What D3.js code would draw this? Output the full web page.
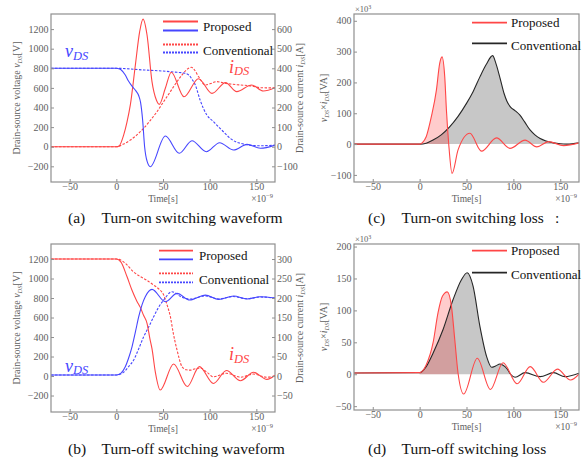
<!DOCTYPE html>
<html>
<head>
<meta charset="utf-8">
<script src="https://cdn.jsdelivr.net/npm/d3@7"></script>
<style>
  body { margin: 0; background: #fff; }
  svg text { font-family: "Liberation Serif", "Times New Roman", serif; }
</style>
</head>
<body>
<svg id="chart"></svg>
<script>
// ---- data: [time in ns, value]

// (a) turn-on waveform: current in A (right axis), voltage in V (left axis)
var onIdsProposed = [[-70,0],[0,0],[3,4],[7.9,60],[11.4,125],[15,213],[20.4,417],[25,587],[28.6,651],[32.9,570],
  [38.2,332],[42.9,238],[46,216],[52.5,298],[58.9,380],[72.5,255],[88,347],[102.5,272],[117,327],[129,281],
  [145,315],[157.5,284],[170,301]];
var onIdsConventional = [[-70,0],[0,0],[7,12],[15,34],[22,60],[29.3,94],[36,132],[43.6,179],[50,225],[57.9,281],
  [64,325],[70.4,366],[76,396],[80.4,405],[84,390],[88.2,357],[95.4,315],[101,322],[107.6,332],[115,325],
  [122,320],[133,315],[145,310],[154,301],[170,300]];
var onVdsProposed = [[-70,800],[0,800],[1.5,798],[5,785],[9.6,731],[13,670],[17,615],[21,570],[24,520],[26,450],
  [28.2,270],[30.3,0],[33,-150],[36.4,-204],[52.5,109],[67.5,-67],[81,61],[96.4,-51],[110.7,41],[125.7,-34],
  [140,24],[154.3,-16],[170,17]];
var onVdsConventional = [[-70,800],[0,800],[29.3,783],[50,772],[65,759],[72,752],[77.5,732],[81,690],[84.6,630],
  [90,470],[97,323],[103,265],[107.6,221],[115,150],[122,86],[128,50],[133,35],[140,20],[147,12],[155,10],
  [163,12],[170,15]];

// (b) turn-off waveform
var offIdsProposed = [[-70,300],[0,300],[5,292],[11.4,255],[16.8,220],[22,192],[25.7,176],[29.3,155],[32.9,135],
  [36,95],[38.2,70],[41.8,10],[47,-36],[61.4,31],[76,-27],[89,24],[104,-19],[118,14],[133,-12],[147,9.5],
  [161.4,-8.5],[170,2]];
var offIdsConventional = [[-70,300],[0,300],[5,297],[11.4,285],[18,268],[25.7,255],[33,245],[40,233],[46,222],
  [50.7,208],[54,185],[57.9,152],[61,110],[65,67],[70.4,24],[75,16],[79.3,15],[85,19],[90,20],[97,10],
  [104,-2],[118,7],[133,-3],[147,5],[161,-3],[170,0]];
var offVdsProposed = [[-70,10],[0,10],[5,30],[9.6,95],[13,180],[16.8,300],[20.5,455],[24,608],[27.5,730],
  [31,813],[38.2,889],[52.5,762],[65,848],[78.6,779],[95.4,830],[109.6,786],[125.7,820],[140,790],
  [154,813],[170,800]];
var offVdsConventional = [[-70,10],[0,10],[8,40],[13,95],[18.6,164],[24,280],[29.3,403],[35,510],[40,608],
  [45,700],[50.7,779],[59.6,865],[70.4,807],[80,790],[95,822],[110,790],[125,815],[140,792],[154,810],[170,800]];

// (c) turn-on loss, x1e3 VA
var onLossProposed = [[-70,0],[0,0],[3,5],[7,24],[12.5,89],[17.9,175],[21.4,262],[23.9,283],[26.8,218],
  [28.6,110],[31,2],[34.6,-95],[41,-19],[53.6,35],[66,-23],[82,20],[96.4,-14],[112.5,13],[125,-9],
  [137.5,8],[153.6,-5],[170,4]];
var onLossConventional = [[-70,0],[0,0],[7,3],[14.3,13],[23,30],[32,56],[41,90],[50,132],[57,170],[64.3,218],
  [71,258],[77.9,287],[81,265],[85.7,215],[90,165],[93,140],[97,120],[102,108],[107,94],[112,72],[118,45],
  [123,30],[128.6,18],[135,10],[142.9,4],[150,1],[157,0],[170,4]];

// (d) turn-off loss, x1e3 VA
var offLossProposed = [[-70,2],[0,2.5],[7.1,15],[14.3,49],[19.6,96],[24.3,122],[29.5,129],[34,106],[37.5,54],
  [41,1.5],[47,-31],[61.5,25],[75.5,-24],[89,18],[104,-15],[118,12],[132,-12.6],[147,8],[161,-9],[170,0]];
var offLossConventional = [[-70,2],[0,2.5],[7,12],[14.3,33],[25,70],[35.7,117],[44.6,148],[50.7,159],[57,138],
  [64.3,75],[71.4,28],[76.8,11],[81,13],[85.7,16],[89,14],[92.9,9],[97,0],[101.8,-4.7],[112.5,2.5],
  [128.6,-3.8],[142.9,2.5],[155,-3.8],[170,1.5]];

// tick labels
var timeTicks = [-50, 0, 50, 100, 150];
var voltTicks = [-200, 0, 200, 400, 600, 800, 1000, 1200];
var onCurrentTicks = [-100, 0, 100, 200, 300, 400, 500, 600];
var offCurrentTicks = [-50, 0, 50, 100, 150, 200, 250, 300];
var onLossTicks = [-100, 0, 100, 200, 300, 400];
var offLossTicks = [-50, 0, 50, 100, 150, 200];

// ---- drawing
var width = 588;
var height = 461;
var RED = "#ff4646";
var BLUE = "#4646ff";
var BLACK = "#262626";
var AXIS = "#8f8f8f";
var LABEL = "#606060";
var fmt = d3.format("d");

var svg = d3.select("#chart")
    .attr("width", width)
    .attr("height", height);

svg.append("rect").attr("width", width).attr("height", height).attr("fill", "#fff");

function makePanel(id, box, yDomain, yTicks, y2Domain, y2Ticks) {
  var x = d3.scaleLinear().domain([-70, 170]).range([box.l, box.r]);
  var y = d3.scaleLinear().domain(yDomain).range([box.b, box.t]);
  var y2 = y2Domain ? d3.scaleLinear().domain(y2Domain).range([box.b, box.t]) : null;

  var g = svg.append("g");

  svg.append("clipPath").attr("id", "clip-" + id)
    .append("rect")
      .attr("x", box.l).attr("y", box.t)
      .attr("width", box.r - box.l).attr("height", box.b - box.t);

  var plot = g.append("g").attr("clip-path", "url(#clip-" + id + ")");

  g.append("g")
      .attr("transform", "translate(0," + box.b + ")")
      .call(d3.axisBottom(x).tickValues(timeTicks).tickFormat(fmt).tickSize(-3).tickSizeOuter(0).tickPadding(1));
  g.append("g")
      .attr("transform", "translate(" + box.l + ",0)")
      .call(d3.axisLeft(y).tickValues(yTicks).tickFormat(fmt).tickSize(-3).tickSizeOuter(0).tickPadding(2.5));
  if (y2) {
    g.append("g")
        .attr("transform", "translate(" + box.r + ",0)")
        .call(d3.axisRight(y2).tickValues(y2Ticks).tickFormat(fmt).tickSize(-3).tickSizeOuter(0).tickPadding(2));
  }
  g.selectAll(".domain").remove();
  g.selectAll(".tick line").attr("stroke", AXIS);
  g.selectAll(".tick text")
      .attr("fill", LABEL)
      .style("font-size", "10px")
      .style("font-family", "'Liberation Serif', serif");

  g.append("rect")
      .attr("x", box.l).attr("y", box.t)
      .attr("width", box.r - box.l).attr("height", box.b - box.t)
      .attr("fill", "none")
      .attr("stroke", AXIS)
      .attr("stroke-width", 1.2);

  // Time[s] and x1e-9
  g.append("text")
      .attr("x", (box.l + box.r) / 2)
      .attr("y", box.b + 19.5)
      .attr("text-anchor", "middle")
      .attr("fill", LABEL)
      .style("font-size", "9.5px")
      .text("Time[s]");
  var e = g.append("text")
      .attr("x", box.r - 2)
      .attr("y", box.b + 19.5)
      .attr("text-anchor", "end")
      .attr("fill", LABEL)
      .style("font-size", "9.5px")
      .text("×10");
  e.append("tspan").attr("dy", -4).style("font-size", "6.5px").text("−9");

  return { g: g, plot: plot, x: x, y: y, y2: y2, box: box, id: id };
}

function drawLine(p, data, yScale, color, dashed) {
  p.plot.append("path")
      .datum(data)
      .attr("fill", "none")
      .attr("stroke", color)
      .attr("stroke-width", 1.1)
      .attr("stroke-dasharray", dashed ? "2.5,1.5" : null)
      .attr("d", d3.line()
          .x(function(d) { return p.x(d[0]); })
          .y(function(d) { return yScale(d[1]); })
          .curve(d3.curveMonotoneX));
}

var fillCount = 0;
function drawFill(p, data, color, tEnd) {
  fillCount++;
  var cid = "fill-" + fillCount;
  svg.append("clipPath").attr("id", cid)
    .append("rect")
      .attr("x", p.x(0)).attr("y", p.box.t)
      .attr("width", p.x(tEnd) - p.x(0)).attr("height", p.box.b - p.box.t);
  p.plot.append("path")
      .datum(data)
      .attr("clip-path", "url(#" + cid + ")")
      .attr("fill", color)
      .attr("stroke", "none")
      .attr("d", d3.area()
          .x(function(d) { return p.x(d[0]); })
          .y0(p.y(0))
          .y1(function(d) { return p.y(d[1]); })
          .curve(d3.curveMonotoneX));
}

function legendLine(x1, x2, y, color, dashed) {
  svg.append("line")
      .attr("x1", x1).attr("x2", x2).attr("y1", y).attr("y2", y)
      .attr("stroke", color)
      .attr("stroke-width", 1.8)
      .attr("stroke-dasharray", dashed ? "2,1" : null);
}

function legendText(x, y, txt) {
  svg.append("text")
      .attr("x", x).attr("y", y)
      .attr("fill", "#111")
      .style("font-size", "13px")
      .text(txt);
}

// name like v_DS, big italic letter with small italic subscript
function symbol(x, y, letter, color) {
  var t = svg.append("text")
      .attr("x", x).attr("y", y)
      .attr("fill", color)
      .style("font-style", "italic")
      .style("font-size", "18px")
      .text(letter);
  t.append("tspan").attr("dy", 2.5).style("font-size", "12.5px").text("DS");
}

function yLabel(cx, cy, before, letter, after) {
  var t = svg.append("text")
      .attr("transform", "translate(" + cx + "," + cy + ") rotate(-90)")
      .attr("text-anchor", "middle")
      .attr("fill", LABEL)
      .style("font-size", "10px")
      .text(before);
  t.append("tspan").style("font-style", "italic").text(letter);
  t.append("tspan").attr("dy", 2).style("font-size", "6.5px").style("font-style", "italic").text("DS");
  t.append("tspan").attr("dy", -2).text(after);
}

function caption(x, y, tag, txt) {
  svg.append("text").attr("x", x).attr("y", y).attr("fill", "#111")
      .style("font-size", "15.5px").text(tag);
  svg.append("text").attr("x", x + 33.5).attr("y", y).attr("fill", "#111")
      .style("font-size", "15.5px").text(txt);
}

// ---- (a) turn-on waveform
var pa = makePanel("a", { l: 51, r: 275, t: 14, b: 182 }, [-360, 1354], voltTicks, [-180, 677], onCurrentTicks);
drawLine(pa, onIdsConventional, pa.y2, RED, true);
drawLine(pa, onVdsConventional, pa.y, BLUE, true);
drawLine(pa, onIdsProposed, pa.y2, RED, false);
drawLine(pa, onVdsProposed, pa.y, BLUE, false);
legendLine(163, 198, 21.5, RED, false);
legendLine(163, 198, 30.5, BLUE, false);
legendText(203, 30.5, "Proposed");
legendLine(163, 198, 44.5, RED, true);
legendLine(163, 198, 52.5, BLUE, true);
legendText(203, 55, "Conventional");
symbol(65, 57, "v", BLUE);
symbol(229, 72.5, "i", RED);
yLabel(20, 98, "Drain-source voltage ", "v", "[V]");
yLabel(303, 98, "Drain-source current ", "i", "[A]");
caption(68, 222.5, "(a)", "Turn-on switching waveform");

// ---- (b) turn-off waveform
var pb = makePanel("b", { l: 51, r: 275, t: 244, b: 412 }, [-369, 1354], voltTicks, [-92.25, 338.5], offCurrentTicks);
drawLine(pb, offIdsConventional, pb.y2, RED, true);
drawLine(pb, offVdsConventional, pb.y, BLUE, true);
drawLine(pb, offIdsProposed, pb.y2, RED, false);
drawLine(pb, offVdsProposed, pb.y, BLUE, false);
legendLine(159, 193, 250.7, RED, false);
legendLine(159, 193, 259.3, BLUE, false);
legendText(199, 259.5, "Proposed");
legendLine(159, 193, 273.3, RED, true);
legendLine(159, 193, 282.3, BLUE, true);
legendText(199, 284, "Conventional");
symbol(65, 371.5, "v", BLUE);
symbol(229, 360, "i", RED);
yLabel(20, 328, "Drain-source voltage ", "v", "[V]");
yLabel(303, 328, "Drain-source current ", "i", "[A]");
caption(68, 454, "(b)", "Turn-off switching waveform");

// ---- (c) turn-on loss
var pc = makePanel("c", { l: 354, r: 579, t: 14, b: 182 }, [-123, 422], onLossTicks);
drawFill(pc, onLossConventional, "rgba(0,0,0,0.22)", 152);
drawFill(pc, onLossProposed, "rgba(255,0,0,0.2)", 31);
drawLine(pc, onLossConventional, pc.y, BLACK, false);
drawLine(pc, onLossProposed, pc.y, RED, false);
legendLine(472, 507, 22.7, RED, false);
legendText(511, 27, "Proposed");
legendLine(472, 507, 43.3, BLACK, false);
legendText(511, 49.5, "Conventional");

// ---- (d) turn-off loss
var pd = makePanel("d", { l: 354, r: 579, t: 244, b: 410 }, [-56, 204], offLossTicks);
drawFill(pd, offLossConventional, "rgba(0,0,0,0.22)", 97);
drawFill(pd, offLossProposed, "rgba(255,0,0,0.2)", 41);
drawLine(pd, offLossConventional, pd.y, BLACK, false);
drawLine(pd, offLossProposed, pd.y, RED, false);
legendLine(472, 507, 250.7, RED, false);
legendText(511, 255, "Proposed");
legendLine(472, 507, 272.7, BLACK, false);
legendText(511, 278.5, "Conventional");

// loss panels: y label and x1e3 factor
[[pc, 98, 12], [pd, 327, 242]].forEach(function(a) {
  var t = svg.append("text")
      .attr("transform", "translate(327," + a[1] + ") rotate(-90)")
      .attr("text-anchor", "middle")
      .attr("fill", LABEL)
      .style("font-size", "10px");
  t.append("tspan").style("font-style", "italic").text("v");
  t.append("tspan").attr("dy", 2).style("font-size", "6.5px").style("font-style", "italic").text("DS");
  t.append("tspan").attr("dy", -2).text("×");
  t.append("tspan").style("font-style", "italic").text("i");
  t.append("tspan").attr("dy", 2).style("font-size", "6.5px").style("font-style", "italic").text("DS");
  t.append("tspan").attr("dy", -2).text("[VA]");

  var f = svg.append("text")
      .attr("x", 355).attr("y", a[2])
      .attr("fill", LABEL)
      .style("font-size", "8.5px")
      .text("×10");
  f.append("tspan").attr("dy", -3).style("font-size", "6px").text("3");
});

caption(368, 223, "(c)", "Turn-on switching loss");
svg.append("text").attr("x", 555).attr("y", 223).attr("fill", "#111")
    .style("font-size", "15.5px").text(":");
caption(368, 453.5, "(d)", "Turn-off switching loss");
</script>
</body>
</html>
